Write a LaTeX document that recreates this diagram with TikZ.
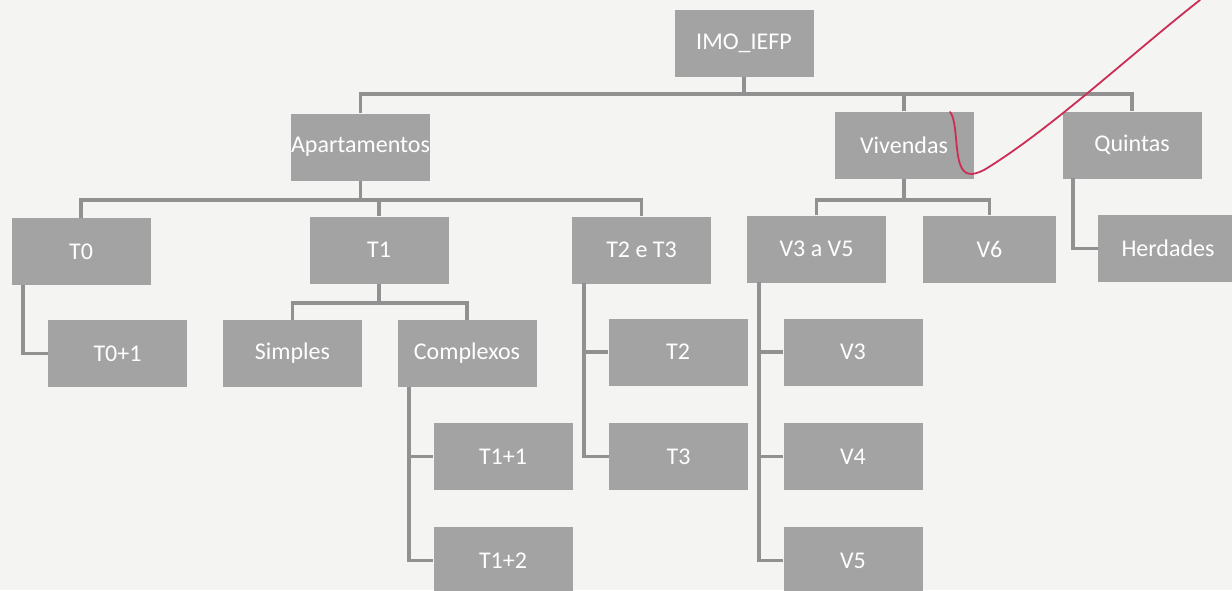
\documentclass[tikz,border=0pt]{standalone}
\usepackage{fontspec}
\setmainfont{Carlito}
\definecolor{boxgray}{RGB}{163,163,163}
\definecolor{linegray}{RGB}{145,145,145}
\definecolor{paper}{RGB}{244,244,243}
\definecolor{pen}{RGB}{205,45,85}
\begin{document}
\begin{tikzpicture}[x=1pt,y=-1pt,
  box/.style={rectangle,fill=boxgray,text=white,minimum width=139pt,minimum height=67pt,inner sep=0pt,font=\fontsize{24}{28}\selectfont},
  conn/.style={draw=linegray,line width=3.5pt}]
\useasboundingbox (0,0) rectangle (1232,590);
\fill[paper] (0,0) rectangle (1232,590);
\clip (0,0) rectangle (1232,590);
% level 0-1
\node[box] (root) at (744,43.5) {IMO\_IEFP};
\node[box] (apt) at (360.5,147) {Apartamentos};
\node[box] (viv) at (904,145) {Vivendas};
\node[box] (qui) at (1132,145) {Quintas};
% level 2
\node[box] (t0) at (81,251.5) {T0};
\node[box] (t1) at (379,250) {T1};
\node[box] (t23) at (641.5,250) {T2 e T3};
\node[box] (v35) at (816.5,249) {V3 a V5};
\node[box,minimum width=133pt] (v6) at (989.5,249) {V6};
\node[box,minimum width=140pt] (her) at (1168,248.5) {Herdades};
% level 3
\node[box] (t01) at (117.5,353.5) {T0+1};
\node[box] (sim) at (292.5,353.5) {Simples};
\node[box] (com) at (467,353.5) {Complexos};
\node[box] (t2) at (678,352) {T2};
\node[box] (v3) at (853,352) {V3};
% level 4
\node[box] (t11) at (503,456.5) {T1+1};
\node[box] (t3) at (678.5,456.5) {T3};
\node[box] (v4) at (853,456.5) {V4};
% level 5
\node[box] (t12) at (503,560.5) {T1+2};
\node[box] (v5) at (853,560.5) {V5};
% bus lines
\coordinate (b1) at (0,94);
\coordinate (b2) at (0,200);
\coordinate (b3) at (0,303);
% root
\draw[conn] (root.south) -- (root.south |- b1);
\draw[conn] (apt.north) -- (apt.north |- b1) -- (qui.north |- b1) -- (qui.north);
\draw[conn] (viv.north) -- (viv.north |- b1);
% apartamentos
\draw[conn] (apt.south) -- (apt.south |- b2);
\draw[conn] (t0.north) -- (t0.north |- b2) -- (t23.north |- b2) -- (t23.north);
\draw[conn] (t1.north) -- (t1.north |- b2);
% vivendas
\draw[conn] (viv.south) -- (viv.south |- b2);
\draw[conn] (v35.north) -- (v35.north |- b2) -- (v6.north |- b2) -- (v6.north);
% quintas
\coordinate (qx) at (1073,178);
\draw[conn] (qx) |- (her.west);
% T0
\coordinate (t0x) at (23,285);
\draw[conn] (t0x) |- (t01.west);
% T1
\draw[conn] (t1.south) -- (t1.south |- b3);
\draw[conn] (sim.north) -- (sim.north |- b3) -- (com.north |- b3) -- (com.north);
% Complexos
\coordinate (cx) at (409,387);
\draw[conn] (cx) |- (t12.west);
\draw[conn] (cx |- t11.west) -- (t11.west);
% T2 e T3
\coordinate (tx) at (584,283);
\draw[conn] (tx) |- (t3.west);
\draw[conn] (tx |- t2.west) -- (t2.west);
% V3 a V5
\coordinate (vx) at (759,282);
\draw[conn] (vx) |- (v5.west);
\draw[conn] (vx |- v3.west) -- (v3.west);
\draw[conn] (vx |- v4.west) -- (v4.west);
% red pen mark
\draw[pen,line width=1.8pt,line cap=round] (950,112) .. controls (957,120) and (955,150) .. (960,164)
  .. controls (964,176) and (972,176) .. (984,170)
  .. controls (1050,130) and (1130,55) .. (1200,0);
\end{tikzpicture}
\end{document}
